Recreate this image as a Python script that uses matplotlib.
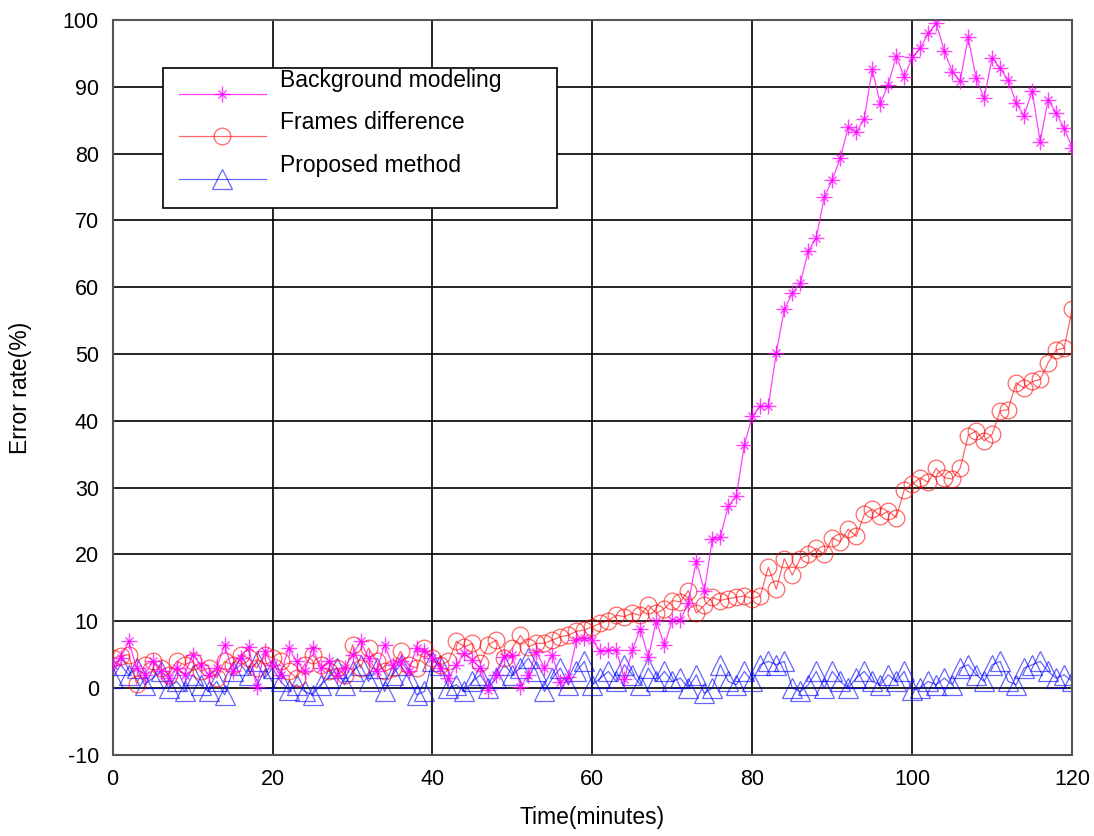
import numpy as np
import matplotlib
matplotlib.use('Agg')
import matplotlib.pyplot as plt
import matplotlib.transforms as mtransforms

# Time axis, one sample per minute
minutes = np.arange(0, 121)

# Background modeling
background = [
    3.5, 4.5, 7.0, 3.0, 2.0, 4.0, 2.5, 1.5, 3.0, 2.0,
    5.0, 3.5, 2.0, 3.0, 6.5, 2.5, 4.5, 6.2, 0.2, 5.5,
    3.5, 2.0, 6.0, 4.0, 2.5, 6.0, 3.0, 4.0, 2.0, 3.0,
    5.0, 7.0, 4.5, 2.5, 6.5, 3.5, 4.0, 2.5, 6.0, 5.5,
    4.5, 3.0, 1.5, 3.5, 5.2, 4.2, 3.0, -0.3, 2.0, 4.7,
    4.9, 0.2, 2.0, 5.4, 3.0, 4.9, 0.9, 1.7, 7.2, 7.5,
    7.2, 5.5, 5.7, 5.7, 1.4, 5.7, 8.9, 4.6, 10.1, 6.4,
    10.2, 10.2, 12.7, 19.1, 14.5, 22.3, 22.6, 27.3, 28.7, 36.4,
    40.7, 42.2, 42.2, 50.2, 56.7, 59.1, 60.6, 65.4, 67.4, 73.5,
    76.1, 79.3, 84.0, 83.2, 85.2, 92.6, 87.5, 90.3, 94.6, 91.5,
    94.4, 95.8, 98.0, 99.5, 95.4, 92.3, 90.9, 97.4, 91.3, 88.3,
    94.3, 92.8, 91.0, 87.6, 85.7, 89.4, 81.8, 88.1, 86.1, 83.8,
    80.9,
]

# Frames difference
frames = [
    4.5, 4.8, 5.0, 0.6, 3.5, 4.0, 3.0, 2.0, 4.0, 3.5,
    4.0, 2.5, 3.0, 1.5, 4.0, 3.5, 5.0, 4.5, 3.0, 5.0,
    4.5, 4.0, 2.5, 1.5, 3.5, 5.0, 3.5, 2.5, 3.0, 2.0,
    6.5, 3.0, 6.0, 4.0, 2.5, 3.0, 5.5, 3.5, 3.0, 6.0,
    4.5, 3.5, 4.0, 7.0, 6.2, 6.7, 3.7, 6.5, 7.2, 4.5,
    6.0, 7.9, 6.2, 6.7, 6.7, 7.2, 7.7, 7.9, 8.5, 8.7,
    9.2, 9.7, 10.1, 10.9, 10.7, 11.2, 10.9, 12.4, 11.2, 11.9,
    13.1, 12.9, 14.6, 11.2, 12.4, 13.6, 13.1, 13.4, 13.6, 13.8,
    13.4, 13.8, 18.1, 14.8, 19.4, 16.9, 19.4, 20.0, 20.9, 20.0,
    22.5, 21.9, 23.8, 22.7, 26.0, 26.8, 25.8, 26.5, 25.5, 29.7,
    30.5, 31.5, 30.8, 32.9, 31.5, 31.3, 32.9, 37.8, 38.5, 37.0,
    38.0, 41.5, 41.7, 45.7, 44.9, 45.9, 46.2, 48.7, 50.6, 50.9,
    56.7,
]

# Proposed method
proposed = [
    1.5, 3.5, 2.0, 3.0, 0.5, 1.5, 2.5, 0.0, 1.0, -0.5,
    2.0, 0.5, -0.5, 1.0, -1.0, 2.5, 3.5, 2.0, 4.0, 1.5,
    3.0, 1.0, -0.3, 0.5, -0.5, -1.0, 0.5, 1.5, 3.0, 0.5,
    2.5, 3.5, 1.0, 3.0, -0.5, 2.0, 3.5, 1.5, -1.0, -0.5,
    4.0, 3.5, 0.0, 0.5, -0.5, 1.0, 2.0, 0.0, 1.5, 3.5,
    2.0, 3.0, 4.5, 2.5, -0.5, 1.5, 3.0, 0.5, 2.5, 4.0,
    0.5, 1.5, 2.5, 1.0, 3.5, 2.0, 0.5, 3.0, 1.0, 2.5,
    1.0, 1.5, 0.0, 2.0, -0.8, 0.0, 3.5, 1.0, 0.5, 2.5,
    1.0, 3.5, 4.0, 3.5, 4.0, 0.0, -0.5, 0.5, 2.5, 0.0,
    2.5, 1.0, 0.0, 1.5, 2.5, 1.0, 0.5, 2.0, 1.0, 2.5,
    -0.3, 0.0, 1.0, 0.5, 1.5, 0.5, 3.0, 3.5, 2.0, 1.0,
    3.5, 4.0, 1.0, 0.5, 3.0, 3.5, 4.0, 2.5, 1.5, 2.0,
    1.0,
]

plt.rcParams['font.family'] = ['Liberation Sans', 'DejaVu Sans']
plt.rcParams['axes.unicode_minus'] = False

fig = plt.figure(figsize=(10.94, 8.36), dpi=100)
ax = fig.add_axes([0.103, 0.097, 0.877, 0.879])

magenta = '#ff00ff'
red = '#ff0000'
blue = '#0000ff'

l1 = ax.plot(minutes, background, color=magenta, lw=0.9, marker='+', ms=12,
             mew=1.0, alpha=0.75, zorder=4)[0]
l1b = ax.plot(minutes, background, color=magenta, lw=0, marker='x', ms=6,
              mew=1.0, alpha=0.75, zorder=4)[0]
l2 = ax.plot(minutes, frames, color=red, lw=0.9, marker='o', ms=12, mfc='none',
             mew=0.9, alpha=0.6, zorder=3)[0]
l3 = ax.plot(minutes, proposed, color=blue, lw=0.9, marker='^', ms=14, mfc='none',
             mew=0.9, alpha=0.6, zorder=2)[0]

ax.set_xlim(0, 120)
ax.set_ylim(-10, 100)
ax.set_xticks(range(0, 121, 20))
ax.set_yticks(range(-10, 101, 10))
ax.grid(True, color='black', lw=1.2)
for s in ax.spines.values():
    s.set_color('#555555')
    s.set_linewidth(1.5)
ax.tick_params(labelsize=15.5, length=0, pad=10)

ax.set_xlabel('Time(minutes)', fontsize=16.5)
ax.set_ylabel('Error rate(%)', fontsize=16.5)
ax.xaxis.set_label_coords(0.5, -0.07)
ax.yaxis.set_label_coords(-0.084, 0.5)

leg = ax.legend([(l1, l1b), l2, l3],
                ['Background modeling', 'Frames difference', 'Proposed method'],
                loc='upper left', bbox_to_anchor=(0.052, 0.5, 0.411, 0.435),
                mode='expand', fontsize=16.5, handlelength=3.8, handletextpad=0.45,
                labelspacing=0.85, fancybox=False, framealpha=1,
                edgecolor='black', borderpad=0.7, borderaxespad=0)
leg.get_frame().set_linewidth(1.2)
# the labels sit a bit above their sample lines in the original
shift = mtransforms.Affine2D().translate(4, 15)
for t in leg.get_texts():
    t.set_transform(t.get_transform() + shift)

fig.savefig('out.png', dpi=100)
